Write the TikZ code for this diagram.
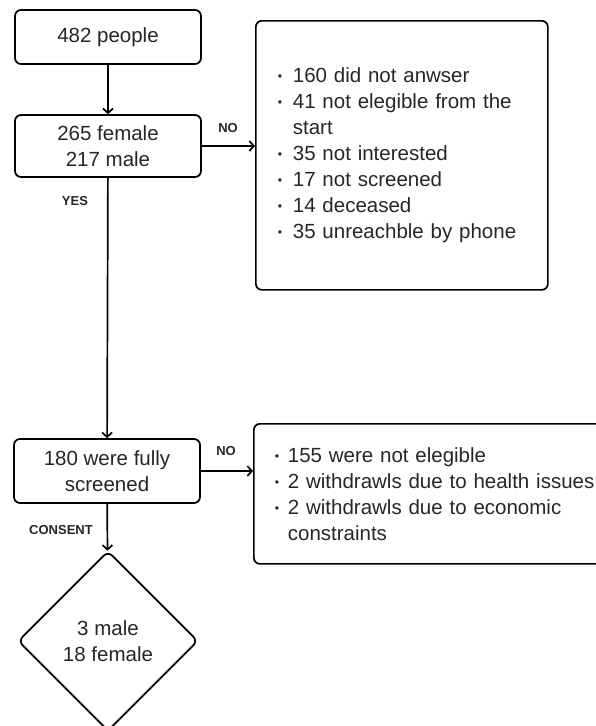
\documentclass[tikz,border=0pt]{standalone}
\usepackage{fontspec}
\setmainfont{Liberation Sans}
\usetikzlibrary{arrows.meta,shapes.geometric}
\newcommand{\bul}{\makebox[15pt][l]{\raisebox{0.1em}{\scalebox{0.6}{\textbullet}}}}
\newcommand{\bulnarrow}{\makebox[13pt][l]{\raisebox{0.1em}{\scalebox{0.6}{\textbullet}}}}
\begin{document}
\begin{tikzpicture}[x=1pt, y=-1pt, line width=1.7pt,
    every node/.style={font=\fontsize{20.5}{26}\selectfont, text=black!85},
    box/.style={draw, rounded corners=6pt, align=center, inner sep=0pt, minimum width=186pt},
    listbox/.style={draw, rounded corners=6pt, align=left, anchor=north west, inner ysep=0pt},
    lbl/.style={font=\fontsize{13}{15}\selectfont\bfseries},
    arr/.style={-{Straight Barb[length=4.5pt,width=10pt]}}]
    \useasboundingbox (0,0) rectangle (596,726);
    \clip (0,0) rectangle (596,726);
    \node[box, minimum height=54pt] (people) at (108,37) {482 people};
    \node[box, minimum height=62pt] (sex) at (108,146) {265 female\\217 male};
    \node[box, minimum height=64pt] (screened) at (107,471) {180 were fully\\screened};
    \node[draw, diamond, rounded corners=6pt, inner sep=0pt, minimum width=180pt, minimum height=180pt, align=center] (final) at (108,641) {3 male\\18 female};
    \node[listbox, inner xsep=22pt, text width=248pt, minimum height=269pt] (lost) at (255,20) {%
        \bul 160 did not anwser\\
        \bul 41 not elegible from the\\
        \hspace*{15pt}start\\
        \bul 35 not interested\\
        \bul 17 not screened\\
        \bul 14 deceased\\
        \bul 35 unreachble by phone};
    \node[listbox, inner xsep=21pt, text width=330pt, minimum height=140pt] (excluded) at (253,423) {%
        \bulnarrow 155 were not elegible\\
        \bulnarrow 2 withdrawls due to health issues\\
        \bulnarrow 2 withdrawls due to economic\\
        \hspace*{13pt}constraints};
    \draw[arr] (people) -- (sex);
    \draw[arr] (sex.east) -- (sex.east -| lost.west);
    \draw[arr] (sex) -- (screened);
    \draw[arr] (screened.east) -- (screened.east -| excluded.west);
    \draw[arr] (screened) -- (final);
    \node[lbl] (no1) at (228,128) {NO};
    \node[lbl] (yes) at (75,201) {YES};
    \node[lbl] (no2) at (226,451) {NO};
    \node[lbl] (consent) at (61,530) {CONSENT};
\end{tikzpicture}
\end{document}
